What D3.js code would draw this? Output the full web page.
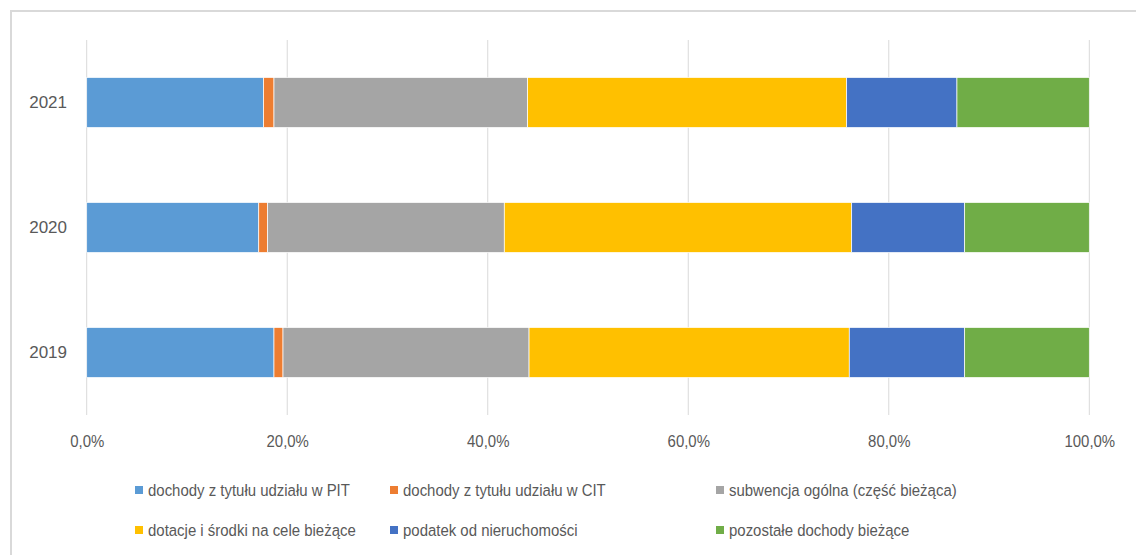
<!DOCTYPE html>
<html>
<head>
<meta charset="utf-8">
<script src="https://cdn.jsdelivr.net/npm/d3@7"></script>
<style>
  body { margin: 0; background: #fff; }
  svg text { font-family: "Liberation Sans", Arial, sans-serif; fill: #595959; }
</style>
</head>
<body>
<div id="chart"></div>
<script>
let years = ["2021", "2020", "2019"]
let seriesNames = [
  "dochody z tytułu udziału w PIT",
  "dochody z tytułu udziału w CIT",
  "subwencja ogólna (część bieżąca)",
  "dotacje i środki na cele bieżące",
  "podatek od nieruchomości",
  "pozostałe dochody bieżące"
]
let seriesColors = ["#5b9bd5", "#ed7d31", "#a5a5a5", "#ffc000", "#4472c4", "#70ad47"]

// shares in % (per year, same order as years)
let pit = [17.65, 17.16, 18.68]
let cit = [1.03, 0.89, 0.90]
let subwencja = [25.30, 23.60, 24.54]
let dotacje = [31.82, 34.65, 31.94]
let podatek = [11.00, 11.27, 11.51]
let pozostale = [13.20, 12.43, 12.43]

let tickValues = [0, 20, 40, 60, 80, 100]

let allSeries = [pit, cit, subwencja, dotacje, podatek, pozostale]
let keys = seriesNames
let rows = years.map((y, i) => {
  let r = { year: y }
  keys.forEach((k, j) => { r[k] = allSeries[j][i] })
  return r
})
let stacked = d3.stack().keys(keys).offset(d3.stackOffsetExpand)(rows)

let width = 1136, height = 555
let svg = d3.select("#chart")
  .append("svg")
  .attr("width", width)
  .attr("height", height)

// chart frame
svg.append("rect")
  .attr("x", 11)
  .attr("y", 11)
  .attr("width", 1200)
  .attr("height", 700)
  .attr("fill", "none")
  .attr("stroke", "#d9d9d9")
  .attr("stroke-width", 2)

let x = d3.scaleLinear().domain([0, 1]).range([86.7, 1089.3])
let y = d3.scaleBand().domain(years).range([40, 415]).paddingInner(0.6).paddingOuter(0.3)

// gridlines
svg.append("g")
  .selectAll("line")
  .data(tickValues)
  .join("line")
  .attr("x1", d => x(d / 100))
  .attr("x2", d => x(d / 100))
  .attr("y1", 40)
  .attr("y2", 415)
  .attr("stroke", "#d9d9d9")
  .attr("stroke-width", 1)

// bars
svg.append("g")
  .selectAll("g")
  .data(stacked)
  .join("g")
  .attr("fill", (d, i) => seriesColors[i])
  .selectAll("rect")
  .data(d => d)
  .join("rect")
  .attr("x", d => x(d[0]))
  .attr("y", d => y(d.data.year))
  .attr("width", d => x(d[1]) - x(d[0]))
  .attr("height", y.bandwidth())
  .attr("stroke", "#fff")
  .attr("stroke-width", 0.7)

// narrow look of the original font
let narrow = "scale(0.88,1)"

// x axis labels
let xAxis = d3.axisBottom(x)
  .tickValues(tickValues.map(v => v / 100))
  .tickFormat(d => d3.format(".1f")(d * 100).replace(".", ",") + "%")
  .tickSize(0)
  .tickPadding(0)
let gx = svg.append("g").attr("transform", "translate(0,435)").call(xAxis)
gx.select(".domain").remove()
gx.selectAll("text").attr("font-size", 17).attr("font-family", null).attr("transform", narrow)

// y axis labels
let yAxis = d3.axisLeft(y).tickSize(0).tickPadding(0)
let gy = svg.append("g").attr("transform", "translate(67,0)").call(yAxis)
gy.select(".domain").remove()
gy.selectAll("text").attr("font-size", 17).attr("font-family", null)

// legend
let legendX = [135, 390, 716]
let legendY = [490, 530]
let legend = svg.append("g")
  .selectAll("g")
  .data(seriesNames)
  .join("g")
  .attr("transform", (d, i) => `translate(${legendX[i % 3]},${legendY[Math.floor(i / 3)]})`)
legend.append("rect")
  .attr("x", 0)
  .attr("y", -4)
  .attr("width", 8)
  .attr("height", 8)
  .attr("fill", (d, i) => seriesColors[i])
legend.append("text")
  .attr("transform", "translate(13,0) " + narrow)
  .attr("dy", "0.35em")
  .attr("font-size", 17)
  .text(d => d)
</script>
</body>
</html>
